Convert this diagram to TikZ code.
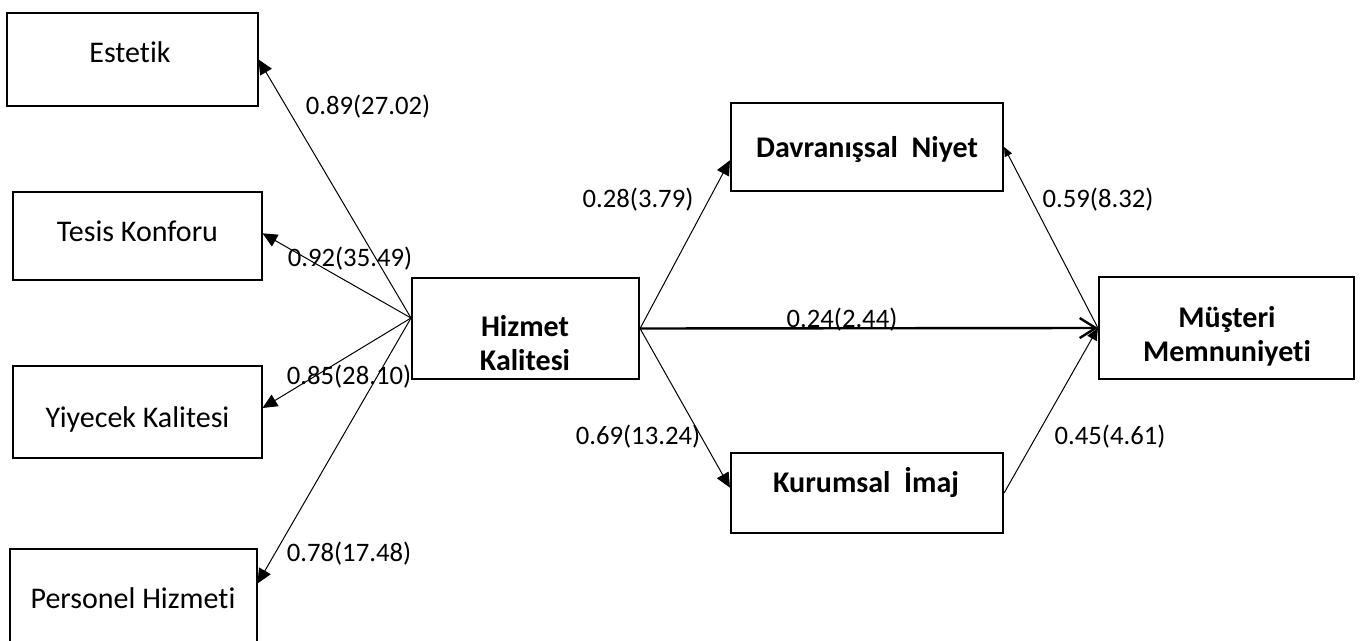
\documentclass[tikz,border=0pt]{standalone}
\usepackage{fontspec}
\setmainfont{Carlito}[Ligatures=NoCommon]
\usetikzlibrary{arrows.meta,calc}
\begin{document}
\begin{tikzpicture}[x=0.75pt,y=-0.75pt,
  thinbox/.style={draw, line width=0.8pt, inner sep=0pt},
  boldbox/.style={draw, line width=1.6pt, inner sep=0pt},
  boxtext/.style={inner sep=0pt, font=\fontsize{22.5}{25.5}\selectfont, align=center},
  boldtext/.style={boxtext, font=\fontsize{22.5}{25.5}\selectfont\bfseries},
  lbl/.style={inner sep=0pt, anchor=base, font=\fontsize{20}{22}\selectfont},
  thinarrow/.style={line width=0.75pt, -{Triangle[length=11pt,width=10pt]}},
  mainarrow/.style={line width=1.8pt, -{Straight Barb[length=12pt,width=15pt]}}
]
\useasboundingbox (0,0) rectangle (1362,641);
\clip (0,0) rectangle (1362,641);

% left boxes
\node[thinbox, minimum width=188.25pt, minimum height=69.75pt] (est) at (132.5,59.5) {};
\node[thinbox, minimum width=186.75pt, minimum height=66pt] (tk) at (137.5,236) {};
\node[thinbox, minimum width=186.75pt, minimum height=69pt] (yk) at (137.5,412) {};
\node[thinbox, minimum width=185.25pt, minimum height=75.75pt] (ph) at (133.5,599.5) {};

% central and right boxes
\node[boldbox, minimum width=170.25pt, minimum height=75.75pt] (hk) at (525.5,328.5) {};
\node[boldbox, minimum width=204pt, minimum height=66pt] (dn) at (867,147) {};
\node[boldbox, minimum width=204pt, minimum height=60pt] (ki) at (867,493) {};
\node[boldbox, minimum width=191.25pt, minimum height=76.5pt] (mm) at (1226.5,328) {};

% box texts
\node[boxtext, anchor=base] (estT) at (130,63) {Estetik};
\node[boxtext, anchor=base] (tkT) at (137.5,242) {Tesis Konforu};
\node[boxtext, anchor=base] (ykT) at (137.5,427) {Yiyecek Kalitesi};
\node[boxtext, anchor=base] (phT) at (133,608) {Personel Hizmeti};
\node[boldtext, anchor=center] (hkT) at (525,343) {Hizmet\\Kalitesi};
\node[boldtext, anchor=base] (dnT) at (867,158) {Davranışsal\ \ Niyet};
\node[boldtext, anchor=base] (kiT) at (866,492) {Kurumsal\ \ İmaj};
\node[boldtext, anchor=center] (mmT) at (1227,336) {Müşteri\\Memnuniyeti};

% connectors
\coordinate (hkL) at (411,318);
\draw[thinarrow] (hkL) -- (est.east);
\draw[thinarrow] (hkL) -- ([yshift=2pt]tk.east);
\draw[thinarrow] (hkL) -- ([yshift=3pt]yk.east);
\draw[thinarrow] (hkL) -- ([yshift=12pt]ph.east);
\draw[thinarrow] (hk.east) -- ([yshift=-10pt]dn.west);
\draw[thinarrow] (hk.east) -- ([yshift=4pt]ki.west);
\draw[mainarrow] (hk.east) -- (mm.west);
\draw[line width=0.75pt, -{Triangle[length=7pt,width=6pt]}] (mm.west) -- (dn.east);
\draw[line width=0.75pt, -{Triangle[length=9pt,width=8pt]}] (ki.east) -- (mm.west);

% labels
\node[lbl] (l1) at (368,115) {0.89(27.02)};
\node[lbl] (l2) at (350,267) {0.92(35.49)};
\node[lbl] (l3) at (349,384) {0.85(28.10)};
\node[lbl] (l4) at (349,561) {0.78(17.48)};
\node[lbl] (l5) at (638,208) {0.28(3.79)};
\node[lbl] (l6) at (638,444) {0.69(13.24)};
\node[lbl] (l7) at (842,328) {0.24(2.44)};
\node[lbl] (l8) at (1098,208) {0.59(8.32)};
\node[lbl] (l9) at (1110,444) {0.45(4.61)};
\end{tikzpicture}
\end{document}
